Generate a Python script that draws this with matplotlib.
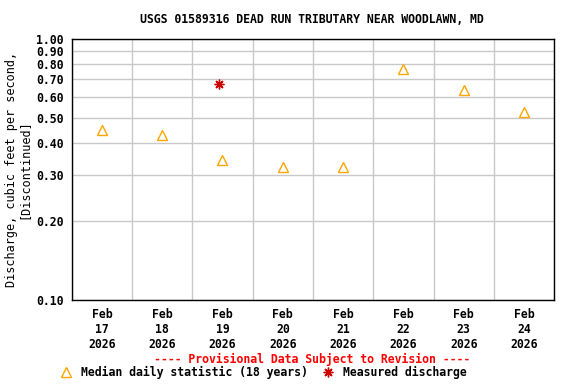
import numpy as np
import pandas as pd
import matplotlib
matplotlib.use("Agg")
import matplotlib.pyplot as plt
import matplotlib.dates as mdates
from matplotlib.ticker import FixedLocator, NullLocator

plt.rcParams['font.family'] = 'DejaVu Sans Mono'
plt.rcParams['font.weight'] = 'bold'

# median daily statistic (18 years), plotted at noon
median_days = ["2026-02-17", "2026-02-18", "2026-02-19", "2026-02-20",
               "2026-02-21", "2026-02-22", "2026-02-23", "2026-02-24"]
median_vals = [0.45, 0.43, 0.345, 0.323, 0.323, 0.765, 0.635, 0.525]

# measured discharge
meas_times = ["2026-02-19 10:40"]
meas_vals = [0.67]

ytick_vals = [0.1, 0.2, 0.3, 0.4, 0.5, 0.6, 0.7, 0.8, 0.9, 1.0]
ytick_labels = ["0.10", "0.20", "0.30", "0.40", "0.50", "0.60", "0.70", "0.80", "0.90", "1.00"]

med_x = pd.to_datetime(median_days) + pd.Timedelta(hours=12)
meas_x = pd.to_datetime(meas_times)

fig = plt.figure(figsize=(5.76, 3.84), dpi=100)
ax = fig.add_axes([0.1245, 0.2188, 0.8375, 0.6796])

ax.plot(med_x, median_vals, linestyle='none', marker='^', markersize=7,
        markerfacecolor='none', markeredgecolor='#FFA500', markeredgewidth=1)
ax.plot(meas_x, meas_vals, linestyle='none', marker=(8, 2, 0), markersize=7,
        color='#CC0000', markeredgewidth=1)

ax.set_yscale('log')
ax.set_ylim(0.1, 1.0)
ax.yaxis.set_major_locator(FixedLocator(ytick_vals))
ax.yaxis.set_minor_locator(NullLocator())
ax.set_yticklabels(ytick_labels)

start = pd.Timestamp("2026-02-17")
end = pd.Timestamp("2026-02-25")
ax.set_xlim(start, end)
ax.set_xticks(med_x)
ax.set_xticklabels([d.strftime("%b\n%d\n%Y") for d in pd.to_datetime(median_days)])
ax.xaxis.set_minor_locator(FixedLocator(mdates.date2num(pd.date_range(start, end, freq='D'))))

ax.grid(True, which='major', axis='y', color='#C8C8C8', linewidth=1)
ax.grid(True, which='minor', axis='x', color='#C8C8C8', linewidth=1)
ax.tick_params(which='both', length=0, labelsize=8.3, pad=6)
for s in ax.spines.values():
    s.set_linewidth(1)

ax.set_ylabel("Discharge, cubic feet per second,\n[Discontinued]", fontsize=8.5,
              linespacing=0.9, labelpad=4)

fig.text(0.542, 0.948, "USGS 01589316 DEAD RUN TRIBUTARY NEAR WOODLAWN, MD",
         ha='center', va='center', fontsize=8.3)
fig.text(0.542, 0.065, "---- Provisional Data Subject to Revision ----",
         ha='center', va='center', fontsize=8.3, color='red')
fig.lines.append(plt.Line2D([0.1146], [0.032], transform=fig.transFigure, marker='^',
                            markersize=7, markerfacecolor='none',
                            markeredgecolor='#FFA500', linestyle='none'))
fig.text(0.14, 0.03, "Median daily statistic (18 years)", ha='left', va='center', fontsize=8.3)
fig.lines.append(plt.Line2D([0.569], [0.03], transform=fig.transFigure, marker=(8, 2, 0),
                            markersize=7, color='#CC0000', linestyle='none'))
fig.text(0.595, 0.03, "Measured discharge", ha='left', va='center', fontsize=8.3)

fig.savefig("out.png", dpi=100)
